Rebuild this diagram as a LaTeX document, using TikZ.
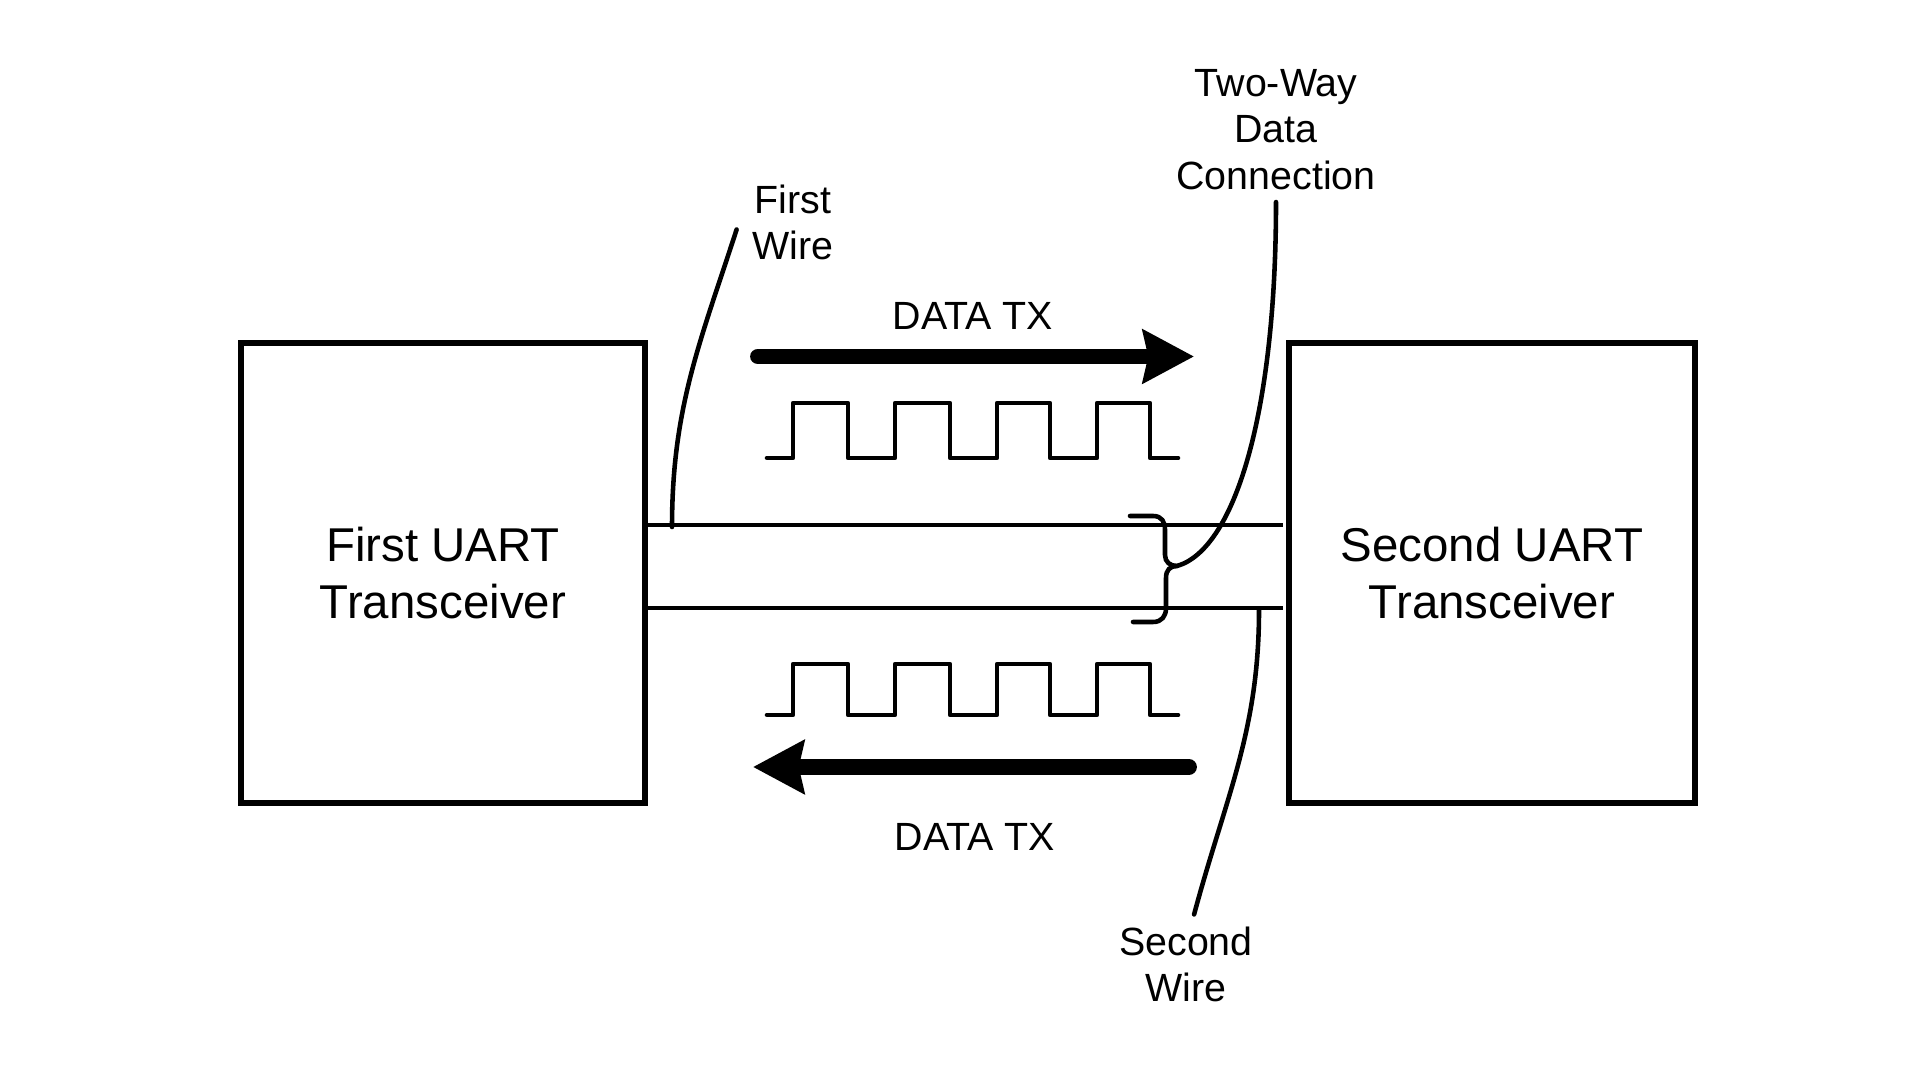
\documentclass[tikz,border=0pt]{standalone}
\usepackage{fontspec}
\setmainfont{Liberation Sans}
\usetikzlibrary{arrows.meta}

\begin{document}
\begin{tikzpicture}[
    box/.style={draw,line width=1.5pt,minimum width=4.04cm,minimum height=4.6cm,align=center,font=\fontsize{13.5}{16}\selectfont},
    lbl/.style={align=center,font=\fontsize{11.2}{13.2}\selectfont},
    wire/.style={line width=1.3pt,line cap=round,line join=round},
    txarrow/.style={line width=4.5pt,line cap=round,-{Stealth[length=14.5pt,width=15pt,inset=1.5pt]}}
]

    \useasboundingbox (0,0) rectangle (19.2,10.8);

    %%%%%%%%%%%%%%%%%%%%%%%%%%%%%%%%%%%%%%%%%%%%%%%%%%%%%%

    % transceivers
    \node[box] (first) at (4.43,5.07) {First UART\\Transceiver};
    \node[box,minimum width=4.06cm] (second) at (14.92,5.07) {Second UART\\Transceiver};

    % the two wires
    \coordinate (w1) at (0,5.55);
    \coordinate (w2) at (0,4.72);
    \draw[wire,line cap=butt,shorten >=1pt] (first.east |- w1) to (second.west |- w1);
    \draw[wire,line cap=butt,shorten >=1pt] (first.east |- w2) to (second.west |- w2);

    %%%%%%%%%%%%%%%%%%%%%%%%%%%%%%%%%%%%%%%%%%%%%%%%%%%%%%

    % data from first to second
    \node[lbl] (txtop) at (9.73,7.64) {DATA TX};
    \coordinate (txa) at (7.58,7.235);
    \coordinate (txb) at (11.94,7.235);
    \draw[txarrow] (txa) to (txb);
    \draw[wire] (7.67,6.22) -- (7.93,6.22) -- (7.93,6.77) -- (8.48,6.77) -- (8.48,6.22) -- (8.95,6.22) -- (8.95,6.77) -- (9.50,6.77) -- (9.50,6.22) -- (9.97,6.22) -- (9.97,6.77) -- (10.50,6.77) -- (10.50,6.22) -- (10.97,6.22) -- (10.97,6.77) -- (11.50,6.77) -- (11.50,6.22) -- (11.78,6.22);

    % data from second to first
    \draw[wire] (7.67,3.65) -- (7.93,3.65) -- (7.93,4.16) -- (8.48,4.16) -- (8.48,3.65) -- (8.95,3.65) -- (8.95,4.16) -- (9.50,4.16) -- (9.50,3.65) -- (9.97,3.65) -- (9.97,4.16) -- (10.50,4.16) -- (10.50,3.65) -- (10.97,3.65) -- (10.97,4.16) -- (11.50,4.16) -- (11.50,3.65) -- (11.78,3.65);
    \coordinate (rxa) at (11.89,3.13);
    \coordinate (rxb) at (7.53,3.13);
    \draw[txarrow] (rxa) to (rxb);
    \node[lbl] (txbot) at (9.75,2.435) {DATA TX};

    %%%%%%%%%%%%%%%%%%%%%%%%%%%%%%%%%%%%%%%%%%%%%%%%%%%%%%

    % first wire
    \node[lbl] (fwlabel) at (7.93,8.575) {First\\Wire};
    \coordinate (fwend) at (6.72,5.53);
    \draw[wire] ([xshift=-1pt,yshift=-2pt]fwlabel.west) to[out=252,in=90] (fwend);

    % second wire
    \node[lbl] (swlabel) at (11.86,1.155) {Second\\Wire};
    \coordinate (swend) at (12.59,4.70);
    \draw[wire] ([xshift=2.3pt]swlabel.north) to[out=75,in=270] (swend);

    % brace over both wires
    \coordinate (btip) at (11.77,5.14);
    \draw[wire] (11.30,5.64) -- (11.53,5.64) .. controls (11.62,5.64) and (11.65,5.58) .. (11.65,5.50) -- (11.65,5.25) .. controls (11.65,5.18) and (11.70,5.14) .. (btip) .. controls (11.70,5.14) and (11.66,5.10) .. (11.66,5.02) -- (11.66,4.72) .. controls (11.66,4.64) and (11.62,4.58) .. (11.53,4.58) -- (11.33,4.58);

    % two-way connection
    \node[lbl] (twlabel) at (12.76,9.505) {Two-Way\\Data\\Connection};
    \draw[wire] (twlabel.south) to[out=270,in=16,out looseness=1.45,in looseness=0.4] (btip);

\end{tikzpicture}
\end{document}
